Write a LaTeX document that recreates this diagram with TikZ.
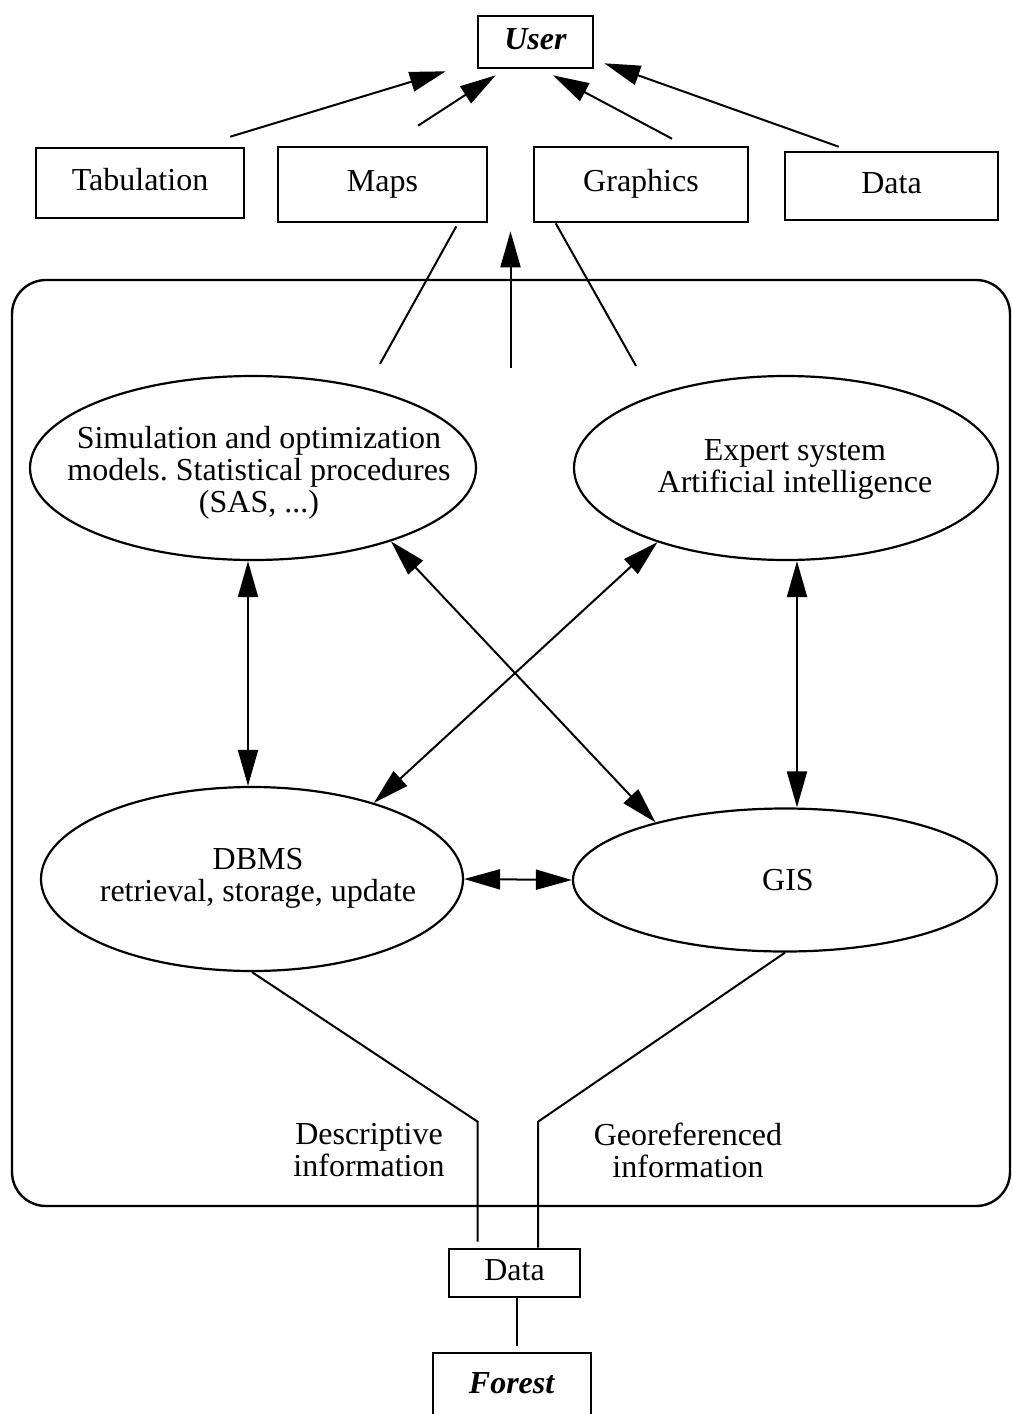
\documentclass[tikz,border=0pt]{standalone}
\usepackage{fontspec}
\setmainfont{Liberation Serif}
\usetikzlibrary{shapes.geometric,arrows.meta,calc}
\frenchspacing
\tikzset{
	box/.style={draw, line width=1.3pt, inner sep=0pt, text height=10.5pt, text depth=3.5pt},
	bubble/.style={draw, ellipse, line width=1.1pt, inner sep=0pt},
	arr/.style={line width=1pt, -{Triangle[length=18pt,width=10pt]}},
	darr/.style={line width=1pt, {Triangle[length=18pt,width=10pt]}-{Triangle[length=18pt,width=10pt]}},
	plain/.style={line width=1pt}
}
\begin{document}
\begin{tikzpicture}[x=0.5pt, y=-0.5pt, font=\fontsize{16}{16}\selectfont]
	\useasboundingbox (0,0) rectangle (1012,1414);
	\draw[line width=1.2pt, rounded corners=17pt] (12,280) rectangle (1010,1206);
	\node[box, minimum width=57.5pt, minimum height=26pt] (user) at (535.5,42) {\textbf{\textit{User}}};
	\node[box, minimum width=104pt, minimum height=35pt] (tab) at (140,183) {Tabulation};
	\node[box, minimum width=104.5pt, minimum height=37.5pt] (maps) at (382.5,184.5) {Maps};
	\node[box, minimum width=107pt, minimum height=37.5pt] (graph) at (641,184.5) {Graphics};
	\node[box, minimum width=106.5pt, minimum height=34pt] (dtop) at (891.5,186) {Data};
	\node[bubble, minimum width=223pt, minimum height=92pt] (sim) at (253,468) {};
	\node[bubble, minimum width=212pt, minimum height=92pt] (expert) at (786,468) {};
	\node[bubble, minimum width=211pt, minimum height=92pt] (dbms) at (252,879) {};
	\node[bubble, minimum width=212pt, minimum height=71.5pt] (gis) at (785,880) {};
	\node[align=center] (simtxt) at ($(sim)+(6,5)$) {Simulation and optimization\\models. Statistical procedures\\(SAS, ...)};
	\node[align=center] (exptxt) at ($(expert)+(9,1)$) {Expert system\\Artificial intelligence};
	\node[align=center] (dbmstxt) at ($(dbms)+(6,-1)$) {DBMS\\retrieval, storage, update};
	\node (gistxt) at ($(gis)+(3,0)$) {GIS};
	\node[box, minimum width=65.5pt, minimum height=24pt] (ddata) at (514.5,1273) {Data};
	\node[box, minimum width=79pt, minimum height=33pt] (forest) at (512,1386) {\textbf{\textit{Forest}}};
	\node[align=center] (desc) at (369,1150) {Descriptive\\information};
	\node[align=center] (geo) at (688,1150) {Georeferenced\\information};
	\coordinate (mid) at ($(maps.south east)!0.5!(graph.south west)$);
	\draw[arr] ($(tab.north east)+(-15,-10)$) -- ($(user.south west)+(-31,2)$);
	\draw[arr] ($(maps.north)+(35.5,-20)$) -- ($(user.south west)+(19,6)$);
	\draw[arr] ($(graph.north)+(31,-7)$) -- ($(user.south)+(17.5,6)$);
	\draw[arr] ($(dtop.north west)+(55,-4)$) -- ($(user.south east)+(10,-6)$);
	\draw[plain] ($(sim.north)+(127,-11)$) -- ($(maps.south east)+(-32,3)$);
	\draw[arr] ($(mid)+(0,145)$) -- ($(mid)+(0,8)$);
	\draw[plain] ($(expert.north)+(-150,-9)$) -- ($(graph.south west)+(23,0)$);
	\draw[darr] ($(sim.south)+(-5,0)$) -- ($(dbms.north)+(-4,0)$);
	\draw[darr] ($(expert.south)+(11,0)$) -- ($(gis.north)+(12,0)$);
	\draw[darr] (sim.-28) -- (gis.156);
	\draw[darr] (expert.210.8) -- (dbms.32.8);
	\draw[darr] (dbms.east) -- (gis.west);
	\draw[plain] (dbms.south) -- ($(ddata.north west)+(30,-126)$) -- ($(ddata.north west)+(30,-6)$);
	\draw[plain] (gis.south) -- ($(ddata.north)+(23.5,-126)$) -- ($(ddata.north)+(23.5,0)$);
	\draw[plain] ($(ddata.south)+(2.5,0)$) -- ($(forest.north)+(5,-6)$);
\end{tikzpicture}
\end{document}
